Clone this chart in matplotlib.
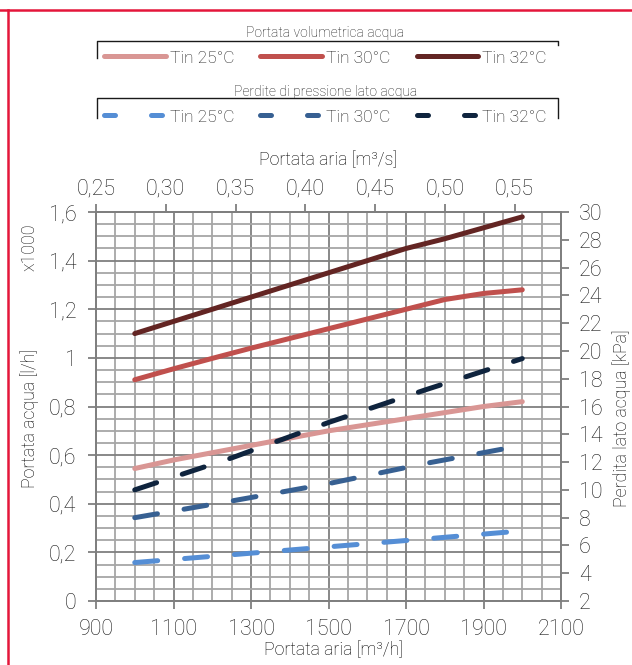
import numpy as np
import matplotlib
matplotlib.use('Agg')
import matplotlib.pyplot as plt
from matplotlib.lines import Line2D
from matplotlib.ticker import MultipleLocator, FuncFormatter

plt.rcParams['font.family'] = ['Roboto', 'DejaVu Sans']
plt.rcParams['font.weight'] = 'light'
plt.rcParams['axes.labelweight'] = 'light'
plt.rcParams['text.color'] = '#1a1a1a'

# dati
portata_aria = [1000, 1100, 1200, 1300, 1400, 1500, 1600, 1700, 1800, 1900, 2000]
acqua_25 = [0.545, 0.58, 0.61, 0.64, 0.67, 0.70, 0.725, 0.75, 0.775, 0.80, 0.82]
acqua_30 = [0.91, 0.955, 0.998, 1.04, 1.08, 1.12, 1.16, 1.20, 1.24, 1.265, 1.28]
acqua_32 = [1.10, 1.15, 1.20, 1.25, 1.30, 1.35, 1.40, 1.45, 1.49, 1.535, 1.58]

portata_aria_dp = [1000, 1250, 1500, 1750, 2000]
perdita_25 = [4.77, 5.33, 5.9, 6.47, 7.05]
perdita_30 = [8.0, 9.2, 10.45, 11.9, 13.2]
perdita_32 = [10.0, 12.3, 14.85, 17.2, 19.45]

etichette = ['Tin 25°C', 'Tin 30°C', 'Tin 32°C']
colori_acqua = ['#D99694', '#C0504D', '#632523']
colori_perdita = ['#558ED5', '#376092', '#0F243E']

x_ticks = list(range(900, 2101, 200))
y_ticks = [0, 0.2, 0.4, 0.6, 0.8, 1.0, 1.2, 1.4, 1.6]
y2_ticks = list(range(2, 31, 2))
top_ticks = [0.25, 0.30, 0.35, 0.40, 0.45, 0.50, 0.55]

grigio = '#7F7F7F'
nero = '#1a1a1a'
lw = 3.6
fs_tick = 15.5
fs_lab = 12.8

fig = plt.figure(figsize=(6.32, 6.65), dpi=100)
ax = fig.add_axes([0.1519, 0.0962, 0.7358, 0.585])

ax.set_xlim(900, 2100)
ax.set_ylim(0, 1.6)
ax.set_xticks(x_ticks)
ax.set_yticks(y_ticks)
ax.xaxis.set_minor_locator(MultipleLocator(50))
ax.yaxis.set_minor_locator(MultipleLocator(0.05))
ax.grid(which='minor', color='#A6A6A6', lw=1.3)
ax.grid(which='major', color=grigio, lw=1.3)
ax.set_axisbelow(True)
ax.yaxis.set_major_formatter(FuncFormatter(lambda v, p: f"{v:g}".replace('.', ',')))

linee_acqua = []
for y, c, lab in zip([acqua_25, acqua_30, acqua_32], colori_acqua, etichette):
    l, = ax.plot(portata_aria, y, color=c, lw=lw, solid_capstyle='round', label=lab)
    linee_acqua.append(l)

ax2 = ax.twinx()
ax2.set_ylim(2, 30)
ax2.set_yticks(y2_ticks)
for y, c in zip([perdita_25, perdita_30, perdita_32], colori_perdita):
    ax2.plot(portata_aria_dp, y, color=c, lw=lw, dashes=(4.6, 5.4), dash_capstyle='round')

secax = ax.secondary_xaxis('top', functions=(lambda x: x / 3600, lambda x: x * 3600))
secax.set_xticks(top_ticks)
secax.xaxis.set_major_formatter(FuncFormatter(lambda v, p: f"{v:.2f}".replace('.', ',')))

for a in [ax, ax2, secax]:
    for s in a.spines.values():
        s.set_color(grigio)
        s.set_linewidth(1.3)
ax.tick_params(which='major', direction='out', length=6, width=1.3, color=grigio, labelsize=fs_tick, labelcolor=nero)
ax.tick_params(axis='y', pad=8)
ax.tick_params(axis='x', pad=7)
ax.tick_params(which='minor', length=0)
ax2.tick_params(direction='out', length=6, width=1.3, color=grigio, labelsize=fs_tick, labelcolor=nero, pad=7)
secax.tick_params(direction='out', length=6, width=1.3, color=grigio, labelsize=fs_tick, labelcolor=nero, pad=3)

# etichette assi
ax.set_xlabel('Portata aria [m³/h]', fontsize=fs_lab, va='center')
ax.xaxis.set_label_coords(0.51, -0.126)
secax.set_xlabel('Portata aria [m³/s]', fontsize=fs_lab, va='center')
secax.xaxis.set_label_coords(0.5, 1.134, transform=ax.transAxes)
ax.set_ylabel('Portata acqua [l/h]', fontsize=fs_lab, va='center')
ax.yaxis.set_label_coords(-0.142, 0.47)
ax.text(-0.142, 0.91, 'x1000', transform=ax.transAxes, rotation=90, ha='center', va='center', fontsize=fs_lab)
ax2.set_ylabel('Perdita lato acqua [kPa]', fontsize=fs_lab, va='center')
ax2.yaxis.set_label_coords(1.131, 0.47)

# legende
leg_kw = dict(ncol=3, frameon=False, loc='upper left', borderpad=0, borderaxespad=0,
              fontsize=12.5, title_fontsize=10, handlelength=3.56, handletextpad=0.23,
              columnspacing=1.5, labelspacing=0.6)
leg1 = fig.legend(linee_acqua, etichette, title='Portata volumetrica acqua',
                  bbox_to_anchor=(104 / 632, 1 - 26 / 665), **leg_kw)
proxy = [Line2D([], [], color=c, lw=lw, dashes=(2.2, 7.2), dash_capstyle='round') for c in colori_perdita]
leg2 = fig.legend(proxy, etichette, title='Perdite di pressione lato acqua',
                  bbox_to_anchor=(104 / 632, 1 - 85 / 665), **leg_kw)
for leg in [leg1, leg2]:
    leg.get_title().set_color(nero)


# parentesi delle legende
def parentesi(y, y_sx, y_dx):
    x0, x1 = 97 / 632, 558 / 632
    fig.add_artist(Line2D([x0, x0, x1, x1], [1 - y_sx / 665, 1 - y / 665, 1 - y / 665, 1 - y_dx / 665],
                          transform=fig.transFigure, color=nero, lw=1))


parentesi(41, 58, 45)
parentesi(98, 118, 118)

# bordo rosso
rosso = '#E4163A'
fig.add_artist(Line2D([0, 1], [1 - 10 / 665, 1 - 10 / 665], transform=fig.transFigure, color=rosso, lw=1.8))
fig.add_artist(Line2D([7.5 / 632, 7.5 / 632], [0, 1 - 10 / 665], transform=fig.transFigure, color=rosso, lw=1.8))

fig.savefig('out.png', dpi=100)
